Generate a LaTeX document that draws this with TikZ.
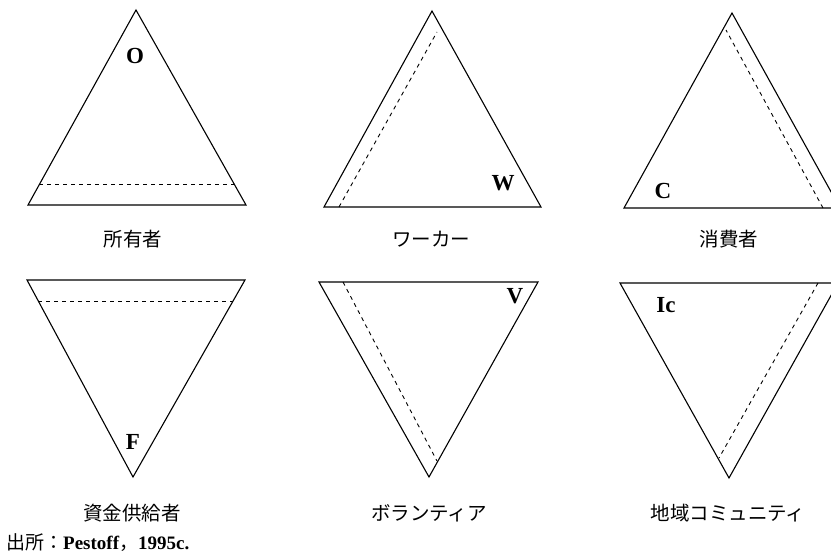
\documentclass[tikz,border=0pt]{standalone}
\usepackage{fontspec}
\setmainfont{Liberation Serif}
\newfontfamily\jp{Noto Sans CJK JP}
\usetikzlibrary{calc}
\begin{document}
\begin{tikzpicture}[x=1pt,y=-1pt,
  tri/.style={line width=1.1pt,line join=miter},
  fold/.style={line width=0.9pt,dash pattern=on 4pt off 4pt},
  letter/.style={font=\fontsize{23}{23}\selectfont\bfseries,inner sep=0pt},
  captxt/.style={font=\jp\fontsize{19.5}{19.5}\selectfont,inner sep=0pt},
  srctxt/.style={font=\fontsize{19}{19}\selectfont\bfseries,inner sep=0pt,anchor=west}]
\useasboundingbox (0,0) rectangle (831,556);
\clip (0,0) rectangle (831,556);
% top row
\coordinate (a1) at (136,10);  \coordinate (l1) at (28,205);  \coordinate (r1) at (246,205);
\coordinate (a2) at (432,11);  \coordinate (l2) at (324,207); \coordinate (r2) at (541,207);
\coordinate (a3) at (732,13);  \coordinate (l3) at (624,208); \coordinate (r3) at (840,208);
% bottom row
\coordinate (a4) at (133,477); \coordinate (l4) at (27,280);  \coordinate (r4) at (245,280);
\coordinate (a5) at (429,477); \coordinate (l5) at (319,282); \coordinate (r5) at (538,282);
\coordinate (a6) at (729,478); \coordinate (l6) at (620,283); \coordinate (r6) at (838,283);
\foreach \i in {1,...,6}{\draw[tri] (a\i) -- (l\i) -- (r\i) -- cycle;}
% fold lines
\coordinate (d1s) at ($(l1)!0.103!(a1)$); \coordinate (d1e) at ($(r1)!0.103!(a1)$);
\draw[fold] (d1s) -- (d1e);
\coordinate (d2s) at (339,207); \coordinate (d2e) at (437,32);
\draw[fold] (d2s) -- (d2e);
\coordinate (d3s) at (823,208); \coordinate (d3e) at (726,30);
\draw[fold] (d3s) -- (d3e);
\coordinate (d4s) at ($(l4)!0.107!(a4)$); \coordinate (d4e) at ($(r4)!0.107!(a4)$);
\draw[fold] (d4s) -- (d4e);
\coordinate (d5s) at (343,282); \coordinate (d5e) at (437,461);
\draw[fold] (d5s) -- (d5e);
\coordinate (d6s) at (818,283); \coordinate (d6e) at (719,458);
\draw[fold] (d6s) -- (d6e);
% letters
\node[letter] (o) at (135,56) {O};
\node[letter] (w) at (503,183) {W};
\node[letter] (c) at (663,191) {C};
\node[letter] (f) at (133,442) {F};
\node[letter] (v) at (515,296) {V};
\node[letter] (ic) at (666,305) {Ic};
% captions
\node[captxt] (t1) at (133,239) {所有者};
\node[captxt] (t2) at (431,239) {ワーカー};
\node[captxt] (t3) at (729,239) {消費者};
\node[captxt] (t4) at (132,513) {資金供給者};
\node[captxt] (t5) at (429,513) {ボランティア};
\node[captxt] (t6) at (728,513) {地域コミュニティ};
\node[srctxt] (s) at (6,543) {{\jp\mdseries 出所：}Pestoff{\jp\mdseries ，}1995c.};
\end{tikzpicture}
\end{document}
